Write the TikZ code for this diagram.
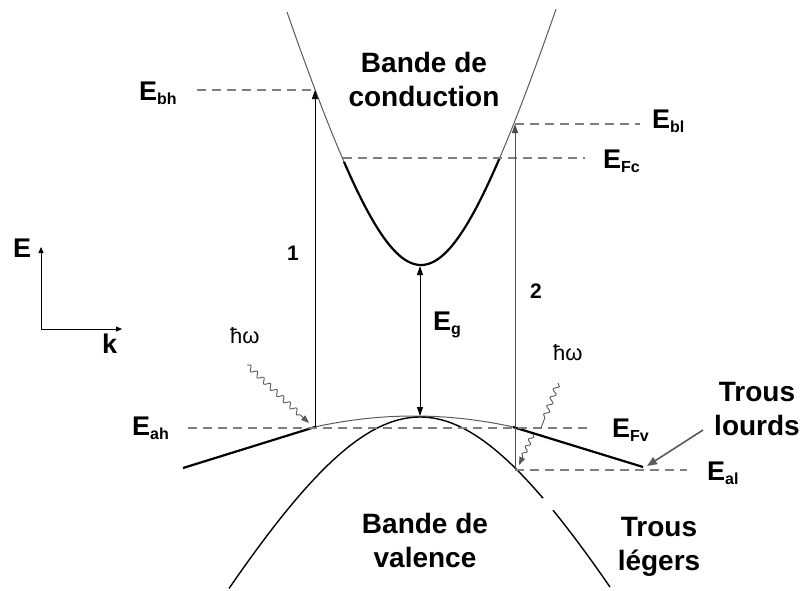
\documentclass[tikz,border=0pt]{standalone}
\usepackage{fontspec}
\setmainfont{Liberation Sans}
\usetikzlibrary{arrows.meta, decorations.pathmorphing}
\definecolor{dashGray}{HTML}{7E7E7E}
\definecolor{thinGray}{HTML}{5A5A5A}
\newcommand{\lvl}[1]{E\raisebox{-4pt}{\fontsize{16}{16}\selectfont #1}}

\begin{document}
\begin{tikzpicture}[x=1pt, y=-1pt,
    lbl/.style={font=\bfseries\fontsize{27}{30}\selectfont, anchor=base west,
                inner sep=0pt},
    bandname/.style={font=\bfseries\fontsize{28}{34}\selectfont, align=center,
                inner sep=0pt},
    hw/.style={font=\fontsize{22}{26}\selectfont, anchor=base west, inner sep=0pt},
    level/.style={dashGray, line width=1.8pt, dash pattern=on 9pt off 6pt},
    occ/.style={black, line width=2.2pt},
    empty/.style={thinGray, line width=1pt},
    light/.style={black, line width=1.4pt},
    trans/.style={line width=1pt, -{Triangle[length=9pt, width=6pt]}},
    egap/.style={line width=1pt, {Triangle[length=9pt, width=6pt]}-{Triangle[length=9pt, width=6pt]}},
    photon/.style={thinGray, line width=0.9pt, decorate,
                   decoration={snake, amplitude=2.5pt, segment length=9pt, post length=8pt},
                   -{Triangle[length=8pt, width=6pt]}},
    axis/.style={line width=0.8pt, -{Triangle[length=6pt, width=5pt]}},
    pointer/.style={thinGray, line width=1.6pt, -{Triangle[length=10pt, width=8pt]}},
  ]
  \useasboundingbox (0,0) rectangle (802,590);

  \coordinate (cmin) at (420,266);
  \coordinate (vtop) at (420,416);
  \coordinate (bh) at (315,90);
  \coordinate (ah) at (315,427);
  \coordinate (bl) at (515,124);
  \coordinate (al) at (515,469);

  % bande de conduction
  \draw[empty] plot[domain=287:344, samples=30] (\x, {265-266*(sqrt(1+((\x-421)/80)^2)-1)});
  \draw[occ] plot[domain=344:500, samples=60] (\x, {265-266*(sqrt(1+((\x-421)/80)^2)-1)});
  \draw[empty] plot[domain=500:556, samples=30] (\x, {265-266*(sqrt(1+((\x-421)/80)^2)-1)});

  % bandes de valence
  \draw[empty] plot[domain=315:513, samples=50] (\x, {416+0.00112*(\x-414)^2});
  \draw[occ] (183,468) -- (ah);
  \draw[occ] (513,427) -- (643,467);
  \draw[light] plot[domain=229:543, samples=80] (\x, {417+277*(sqrt(1+((\x-420)/150)^2)-1)});
  \draw[light] plot[domain=553:610, samples=20] (\x, {417+277*(sqrt(1+((\x-420)/150)^2)-1)});

  % niveaux
  \coordinate (bhd) at (197,90);
  \coordinate (bld) at (640,124);
  \coordinate (fcl) at (343,158);
  \coordinate (fcr) at (585,158);
  \coordinate (ahd) at (188,428);
  \coordinate (fvd) at (590,428);
  \coordinate (ald) at (687,470);
  \draw[level] (bhd) -- (bh);
  \draw[level] (bl) -- (bld);
  \draw[level, line width=2.6pt] (fcl) -- (fcr);
  \draw[level] (ahd) -- (fvd);
  \draw[level] (al |- ald) -- (ald);

  \node[lbl] (ebh) at (139,100) {\lvl{bh}};
  \node[lbl] (ebl) at (652,128) {\lvl{bl}};
  \node[lbl] (efc) at (603,168) {\lvl{Fc}};
  \node[lbl] (eah) at (132,435) {\lvl{ah}};
  \node[lbl] (efv) at (612,437) {\lvl{Fv}};
  \node[lbl] (eal) at (707,480) {\lvl{al}};
  \node[lbl] (eg) at (433,330) {\lvl{g}};

  % transitions
  \draw[trans] (ah) -- (bh);
  \draw[trans, black!70] (al) -- (bl);
  \draw[egap] (vtop) -- (cmin);
  \node[lbl, font=\bfseries\fontsize{21}{24}\selectfont] (t1) at (287,260) {1};
  \node[lbl, font=\bfseries\fontsize{21}{24}\selectfont] (t2) at (530,298) {2};

  \coordinate (p1s) at (247,365);
  \coordinate (p1e) at (309,423);
  \coordinate (p2s) at (558,383);
  \coordinate (p2m) at (541,428);
  \coordinate (p2n) at (533,434);
  \coordinate (p2e) at (519,465);
  \draw[photon] (p1s) -- (p1e);
  \draw[photon, -] (p2s) -- (p2m);
  \draw[photon, decoration={snake, amplitude=2pt, segment length=8pt, post length=7pt}] (p2n) -- (p2e);
  \node[hw] (hw1) at (230,343) {ħω};
  \node[hw] (hw2) at (553,360) {ħω};

  % axes
  \coordinate (o) at (41,329);
  \coordinate (ey) at (41,247);
  \coordinate (kx) at (122,329);
  \draw[axis] (o) -- (ey);
  \draw[axis] (o) -- (kx);
  \node[lbl] (eax) at (13,257) {E};
  \node[lbl] (kax) at (102,353) {k};

  % noms
  \node[bandname] (bc) at (424,79) {Bande de\\conduction};
  \node[bandname] (bv) at (425,540) {Bande de\\valence};
  \node[bandname] (tl) at (757,409) {Trous\\lourds};
  \node[bandname] (tg) at (659,547) {Trous\\légers};
  \coordinate (tlp) at (703,430);
  \coordinate (hhe) at (647,466);
  \draw[pointer] (tlp) -- (hhe);
\end{tikzpicture}
\end{document}
